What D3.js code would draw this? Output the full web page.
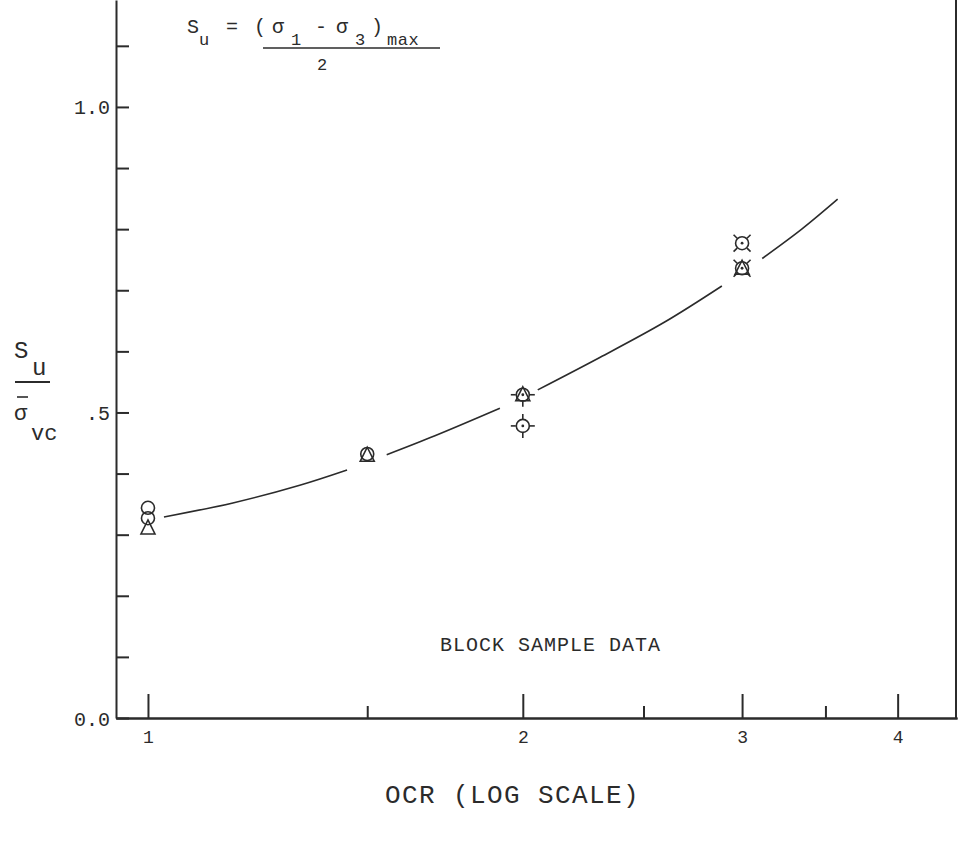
<!DOCTYPE html>
<html>
<head>
<meta charset="utf-8">
<script src="https://cdn.jsdelivr.net/npm/d3@7"></script>
<style>
    body { margin: 0; background: #fff; }
    svg { display: block; }
    text { font-family: "Liberation Mono", "DejaVu Sans Mono", monospace; fill: #2b2b2b; }
    .axis path, .axis line { stroke: #2b2b2b; stroke-width: 2; }
</style>
</head>
<body>
<svg width="959" height="841"></svg>
<script>
// measured points (OCR, Su / sigma'vc)
var pointOcr = [1, 1, 1, 1.5, 1.5, 2, 2, 3, 3];
var pointSu = [0.344, 0.327, 0.311, 0.432, 0.430, 0.529, 0.478, 0.777, 0.736];
var pointSymbol = ["circle", "circle", "triangle", "circle", "triangle",
    "triangleFlag", "circleFlag", "circleDiag", "triangleDiag"];

// hand drawn trend curve, null = pen lifted around a symbol
var curveOcr = [1.03, 1.17, 1.324, 1.445, null, 1.555, 1.7, 1.917, null,
    2.056, 2.306, 2.6, 2.89, null, 3.114, 3.35, 3.58];
var curveSu = [0.329, 0.352, 0.381, 0.406, null, 0.431, 0.462, 0.507, null,
    0.537, 0.590, 0.648, 0.707, null, 0.752, 0.800, 0.849];

// axis ticks
var xMajorTicks = [1, 2, 3, 4];
var xMinorTicks = [1.5, 2.5, 3.5];
var yTicks = [0, 0.1, 0.2, 0.3, 0.4, 0.5, 0.6, 0.7, 0.8, 0.9, 1.0, 1.1];
var yLabelValues = [0, 0.5, 1.0];
var yLabelText = ["0.0", ".5", "1.0"];

var svg = d3.select("svg");

var x = d3.scaleLog().domain([0.9426, 4.464]).range([116, 957]);
var y = d3.scaleLinear().domain([0, 1.175]).range([718, 0]);

// y axis, ticks pointing inward
var yAxis = svg.append("g")
    .attr("class", "axis")
    .attr("transform", "translate(116,0)")
    .call(d3.axisLeft(y)
        .tickValues(yTicks)
        .tickSizeInner(-13)
        .tickSizeOuter(0)
        .tickPadding(6)
        .tickFormat(function (d) {
            var i = yLabelValues.findIndex(function (v) { return Math.abs(v - d) < 1e-9; });
            return i < 0 ? "" : yLabelText[i];
        }));
yAxis.selectAll("text").style("font-size", "20px").attr("dy", "0.35em");

// x axis, major + minor ticks pointing up
var xAxis = svg.append("g")
    .attr("class", "axis")
    .attr("transform", "translate(0,718)")
    .call(d3.axisBottom(x)
        .tickValues(xMajorTicks)
        .tickSizeInner(-24)
        .tickSizeOuter(0)
        .tickPadding(10)
        .tickFormat(d3.format("d")));
xAxis.selectAll("text").style("font-size", "18px").attr("dy", "0.85em");

svg.append("g")
    .attr("class", "axis")
    .attr("transform", "translate(0,718)")
    .call(d3.axisBottom(x)
        .tickValues(xMinorTicks)
        .tickSizeInner(-12)
        .tickSizeOuter(0)
        .tickFormat(""));

// right frame line
svg.append("line")
    .attr("x1", x.range()[1] - 1).attr("x2", x.range()[1] - 1)
    .attr("y1", y.range()[1]).attr("y2", y.range()[0])
    .attr("stroke", "#2b2b2b").attr("stroke-width", 2);

// trend curve
var curveData = curveOcr.map(function (d, i) {
    return d === null ? null : [d, curveSu[i]];
});
var line = d3.line()
    .defined(function (d) { return d !== null; })
    .x(function (d) { return x(d[0]); })
    .y(function (d) { return y(d[1]); })
    .curve(d3.curveCatmullRom.alpha(0.5));
svg.append("path")
    .datum(curveData)
    .attr("d", line)
    .attr("fill", "none")
    .attr("stroke", "#2b2b2b")
    .attr("stroke-width", 1.6);

// symbols
var triPath = "M0,-8L7,6L-7,6Z";
function addFlags(g, angles) {
    angles.forEach(function (a) {
        var r = a * Math.PI / 180;
        g.append("line")
            .attr("x1", Math.cos(r) * 7).attr("y1", Math.sin(r) * 7)
            .attr("x2", Math.cos(r) * 12).attr("y2", Math.sin(r) * 12);
    });
}
pointOcr.forEach(function (o, i) {
    var g = svg.append("g")
        .attr("transform", "translate(" + x(o) + "," + y(pointSu[i]) + ")")
        .attr("fill", "none")
        .attr("stroke", "#2b2b2b")
        .attr("stroke-width", 1.6);
    var s = pointSymbol[i];
    if (s.indexOf("circle") === 0 || s === "triangleFlag" || s === "triangleDiag")
        g.append("circle").attr("r", 6.5);
    if (s.indexOf("triangle") === 0)
        g.append("path").attr("d", triPath);
    if (s !== "circle" && s !== "triangle")
        g.append("circle").attr("r", 1.4).attr("fill", "#2b2b2b").attr("stroke", "none");
    if (s === "circleFlag") addFlags(g, [0, 90, 180, 270]);
    if (s === "triangleFlag") addFlags(g, [0, 90, 180]);
    if (s === "circleDiag" || s === "triangleDiag") addFlags(g, [45, 135, 225, 315]);
});

// formula at the top
var f = svg.append("g").style("font-size", "20px");
f.append("text").attr("x", 187).attr("y", 33).text("S");
f.append("text").attr("x", 199).attr("y", 45).style("font-size", "17px").text("u");
f.append("text").attr("x", 226).attr("y", 33).text("=");
f.append("text").attr("x", 254).attr("y", 33).text("(");
f.append("text").attr("x", 272).attr("y", 33).text("\u03c3");
f.append("text").attr("x", 291).attr("y", 45).style("font-size", "17px").text("1");
f.append("text").attr("x", 315).attr("y", 33).text("-");
f.append("text").attr("x", 336).attr("y", 33).text("\u03c3");
f.append("text").attr("x", 355).attr("y", 45).style("font-size", "17px").text("3");
f.append("text").attr("x", 371).attr("y", 33).text(")");
f.append("text").attr("x", 387).attr("y", 45).style("font-size", "17px")
    .style("letter-spacing", "0.6px").text("max");
svg.append("line")
    .attr("x1", 263).attr("x2", 440).attr("y1", 48).attr("y2", 48)
    .attr("stroke", "#2b2b2b").attr("stroke-width", 1.6);
svg.append("text").attr("x", 322).attr("y", 70).attr("text-anchor", "middle")
    .style("font-size", "17px").text("2");

// y axis label: Su / sigma'vc
svg.append("text").attr("x", 14).attr("y", 358).style("font-size", "24px").text("S");
svg.append("text").attr("x", 32).attr("y", 375).style("font-size", "24px").text("u");
svg.append("line")
    .attr("x1", 15).attr("x2", 50).attr("y1", 382).attr("y2", 382)
    .attr("stroke", "#2b2b2b").attr("stroke-width", 1.8);
svg.append("line")
    .attr("x1", 17).attr("x2", 28).attr("y1", 397).attr("y2", 397)
    .attr("stroke", "#2b2b2b").attr("stroke-width", 1.6);
svg.append("text").attr("x", 14).attr("y", 420).style("font-size", "22px").text("\u03c3");
svg.append("text").attr("x", 31).attr("y", 440).style("font-size", "22px").text("vc");

// annotations
svg.append("text").attr("x", 440).attr("y", 651).style("font-size", "20px")
    .style("letter-spacing", "1px").text("BLOCK SAMPLE DATA");
svg.append("text").attr("x", 385).attr("y", 803).style("font-size", "26px")
    .style("letter-spacing", "1.4px").text("OCR (LOG SCALE)");
</script>
</body>
</html>
